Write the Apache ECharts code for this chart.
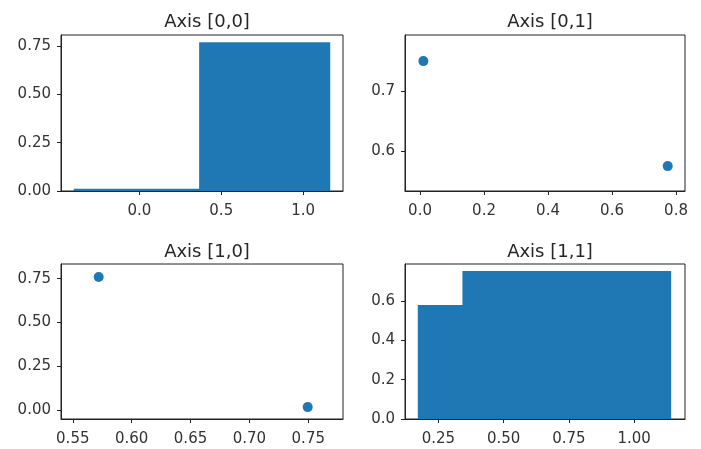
<!DOCTYPE html>
<html>
<head>
<meta charset="utf-8">
<script src="https://cdn.jsdelivr.net/npm/echarts@6/dist/echarts.min.js"></script>
<style>html,body{margin:0;padding:0;background:#fff;}#c{width:701px;height:449px;}</style>
</head>
<body>
<div id="c"></div>
<script>
// Panel [0,0]: bars (center x, height), width 0.8
var bar00X = [0.0, 0.765];
var bar00H = [0.011, 0.768];
// Panel [0,1]: scatter
var sc01X = [0.0104, 0.774];
var sc01Y = [0.7495, 0.5745];
// Panel [1,0]: scatter
var sc10X = [0.572, 0.7495];
var sc10Y = [0.76, 0.017];
// Panel [1,1]: bars
var bar11X = [0.571, 0.742];
var bar11H = [0.579, 0.753];
var barWidth = 0.8;

var titles = ['Axis [0,0]', 'Axis [0,1]', 'Axis [1,0]', 'Axis [1,1]'];
var xTicks = [[0.0, 0.5, 1.0], [0.0, 0.2, 0.4, 0.6, 0.8], [0.55, 0.60, 0.65, 0.70, 0.75], [0.25, 0.50, 0.75, 1.00]];
var yTicks = [[0.0, 0.25, 0.5, 0.75], [0.6, 0.7], [0.0, 0.25, 0.5, 0.75], [0.0, 0.2, 0.4, 0.6]];
var xDec = [1, 1, 2, 2];
var yDec = [2, 1, 2, 1];
var xRange = [[-0.478, 1.243], [-0.047, 0.828], [0.540, 0.7795], [0.122, 1.195]];
var yRange = [[0, 0.806], [0.533, 0.793], [-0.051, 0.834], [0, 0.788]];

var grids = [
  {left: 61, top: 35, width: 282, height: 156},
  {left: 405, top: 35, width: 280, height: 156},
  {left: 61, top: 264, width: 282, height: 155},
  {left: 405, top: 264, width: 280, height: 155}
];
var titleTops = [8, 8, 238, 238];
var FONT = 'DejaVu Sans';
var blue = '#1f77b4';

var option = {
  backgroundColor: '#fff',
  animation: false,
  title: grids.map(function (g, i) {
    return {
      text: titles[i], left: g.left + g.width / 2, top: titleTops[i], textAlign: 'center',
      textStyle: {fontFamily: FONT, fontSize: 18, fontWeight: 'normal', color: '#262626'}
    };
  }),
  grid: grids.map(function (g) {
    return Object.assign({show: true, borderColor: '#222', borderWidth: 1, backgroundColor: '#fff'}, g);
  }),
  xAxis: grids.map(function (g, i) {
    return {
      type: 'value', gridIndex: i, min: xRange[i][0], max: xRange[i][1],
      splitLine: {show: false},
      axisLine: {show: true, onZero: false, lineStyle: {color: '#222', width: 1}},
      axisTick: {show: true, length: 4, inside: false, customValues: xTicks[i], lineStyle: {color: '#222'}},
      axisLabel: {customValues: xTicks[i], margin: 13, fontFamily: FONT, fontSize: 15, color: '#333',
        formatter: (function (d) { return function (v) { return v.toFixed(d); }; })(xDec[i])}
    };
  }),
  yAxis: grids.map(function (g, i) {
    return {
      type: 'value', gridIndex: i, min: yRange[i][0], max: yRange[i][1],
      splitLine: {show: false},
      axisLine: {show: true, onZero: false, lineStyle: {color: '#222', width: 1}},
      axisTick: {show: true, length: 4, inside: false, customValues: yTicks[i], lineStyle: {color: '#222'}},
      axisLabel: {customValues: yTicks[i], margin: 10, fontFamily: FONT, fontSize: 15, color: '#333',
        formatter: (function (d) { return function (v) { return v.toFixed(d); }; })(yDec[i])}
    };
  }),
  series: []
};

function barSeries(idx, xs, hs) {
  return {
    type: 'custom', xAxisIndex: idx, yAxisIndex: idx,
    data: xs.map(function (x, k) { return [x, hs[k]]; }),
    clip: true,
    renderItem: function (params, api) {
      var x = api.value(0), h = api.value(1);
      var p0 = api.coord([x - barWidth / 2, h]);
      var p1 = api.coord([x + barWidth / 2, 0]);
      return {type: 'rect', shape: {x: p0[0], y: p0[1], width: p1[0] - p0[0], height: p1[1] - p0[1]},
        style: {fill: blue}};
    }
  };
}
function scatterSeries(idx, xs, ys) {
  return {
    type: 'scatter', xAxisIndex: idx, yAxisIndex: idx, symbolSize: 10,
    itemStyle: {color: blue, opacity: 1},
    data: xs.map(function (x, k) { return [x, ys[k]]; })
  };
}
option.series.push(barSeries(0, bar00X, bar00H));
option.series.push(scatterSeries(1, sc01X, sc01Y));
option.series.push(scatterSeries(2, sc10X, sc10Y));
option.series.push(barSeries(3, bar11X, bar11H));

var chart = echarts.init(document.getElementById('c'), null, {renderer: 'canvas'});
chart.setOption(option);
</script>
</body>
</html>
